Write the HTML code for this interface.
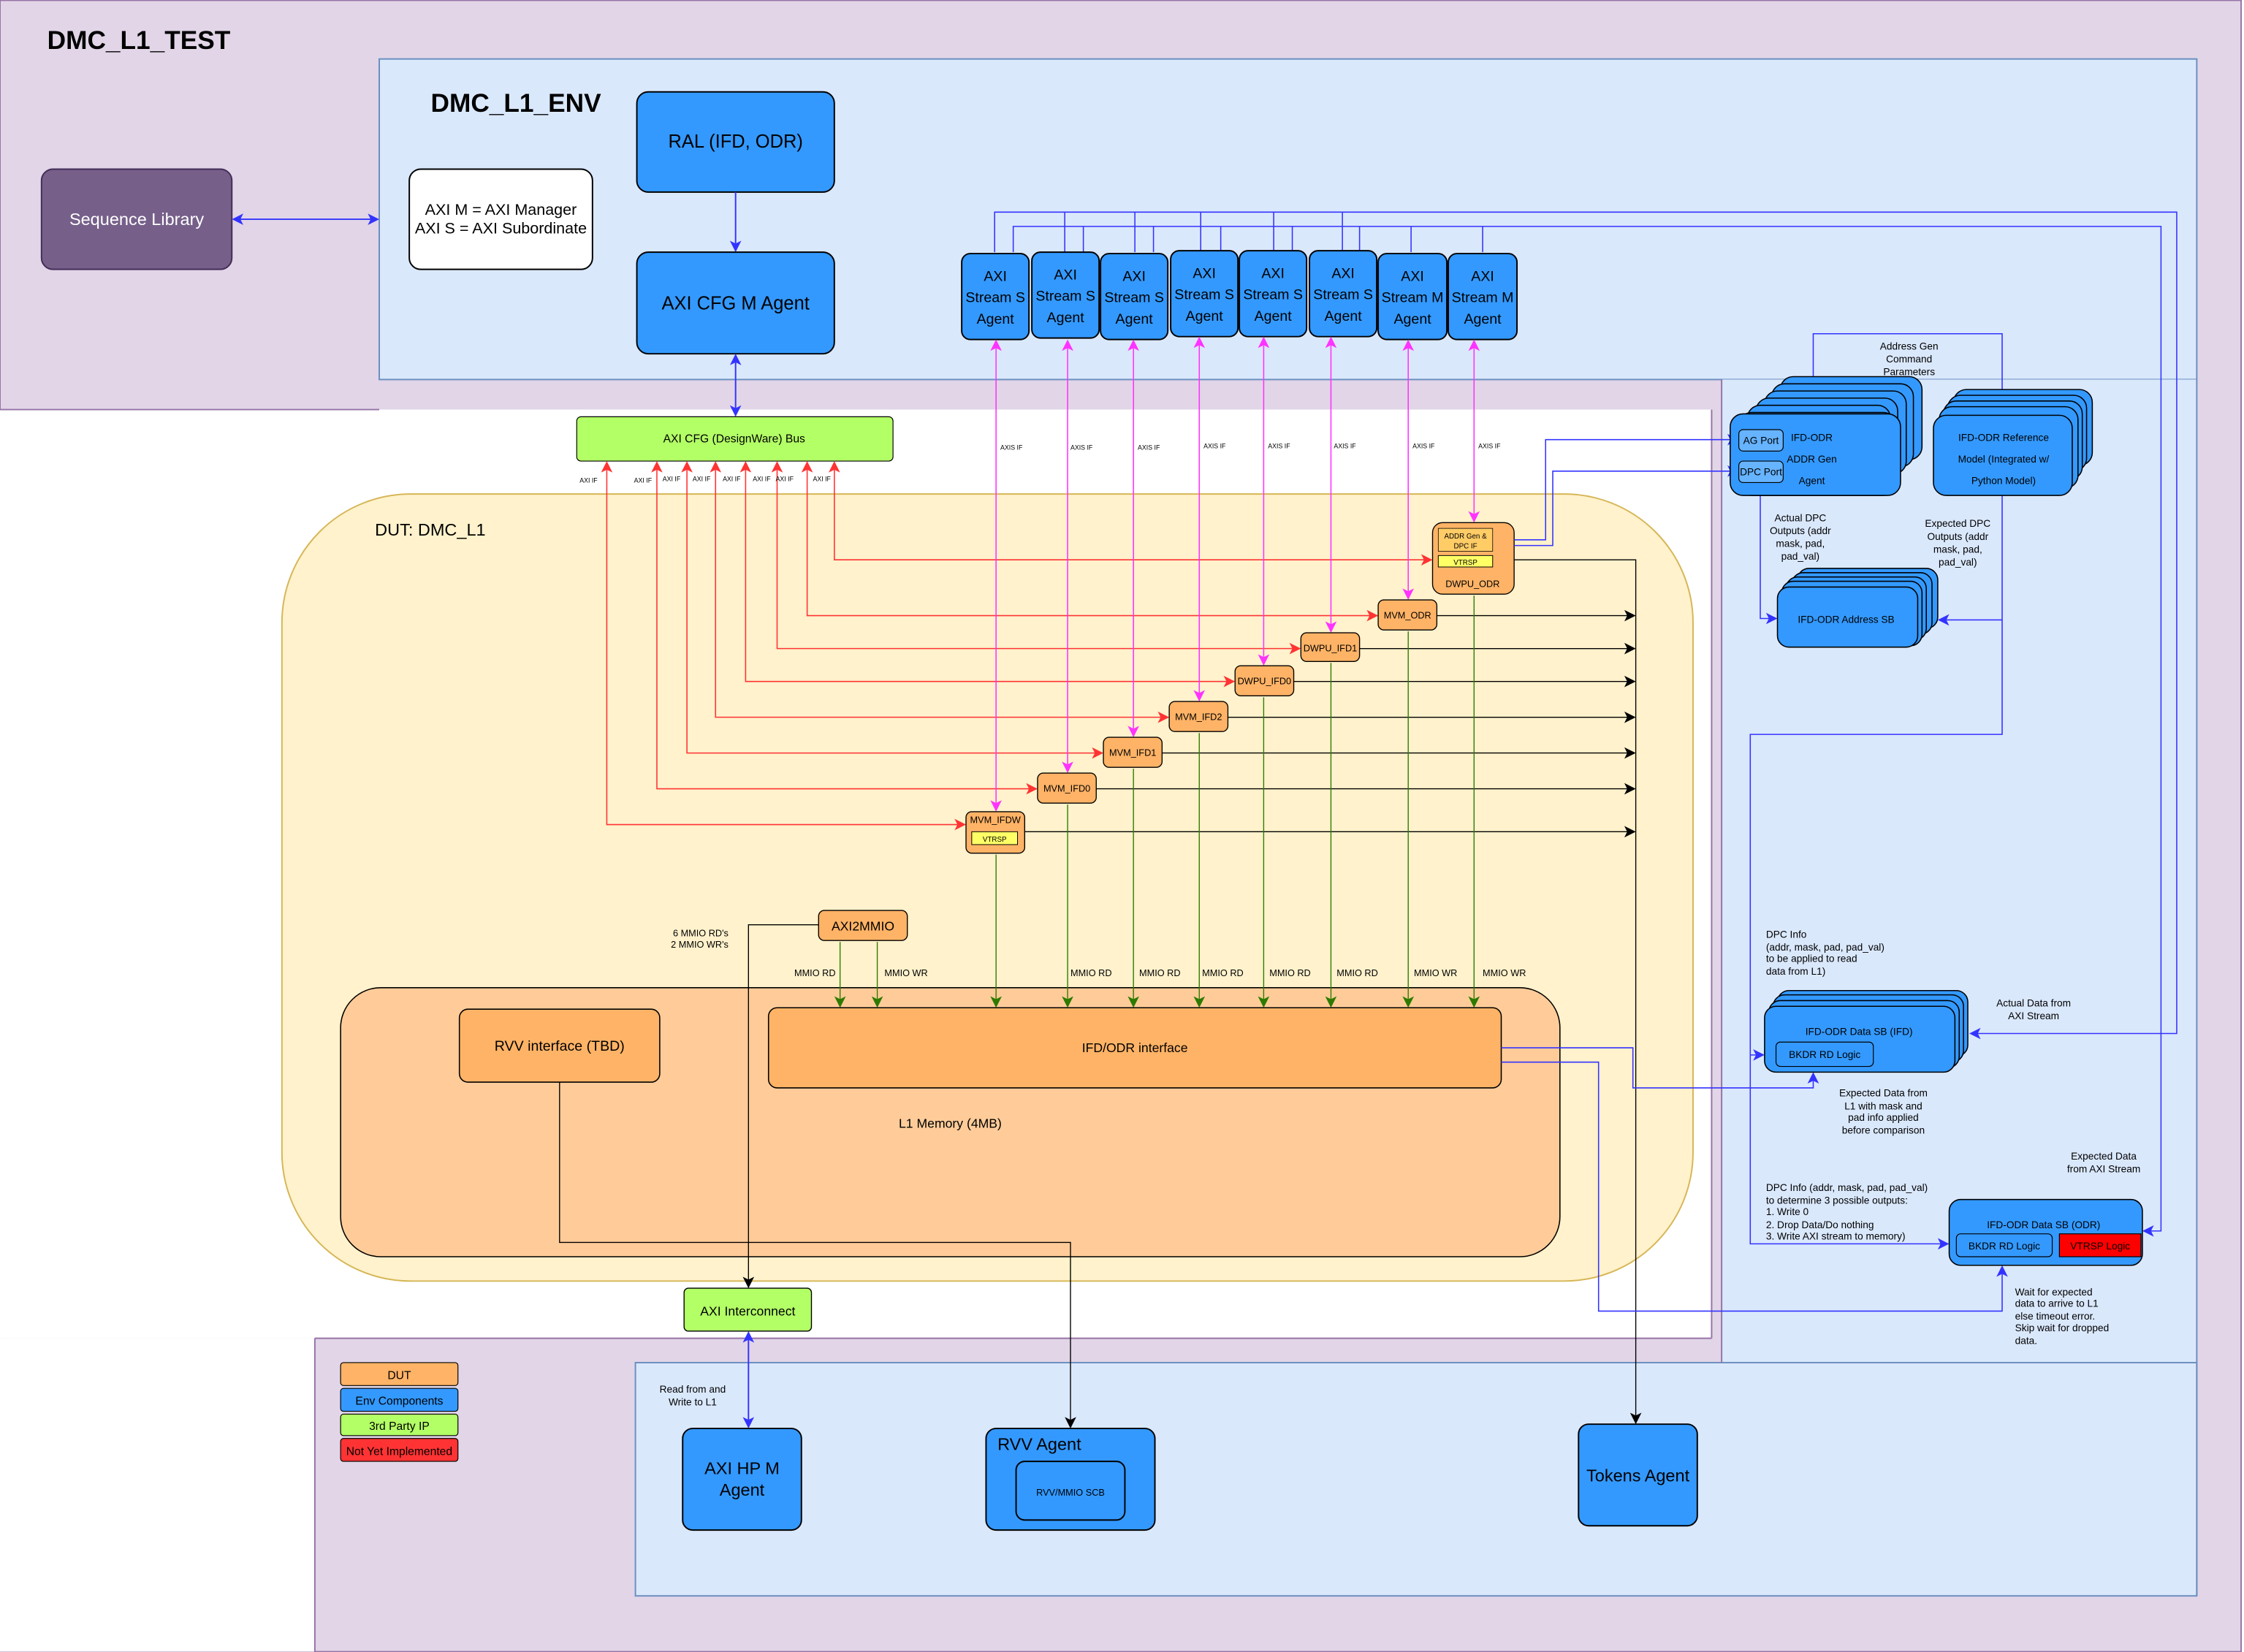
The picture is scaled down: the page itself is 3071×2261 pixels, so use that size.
<!DOCTYPE html>
<html><head><meta charset="utf-8"><style>html,body{margin:0;padding:0;background:#fff}svg{display:block}text{font-family:"Liberation Sans",sans-serif}</style></head><body>
<svg width="3071" height="2261" viewBox="0 0 1568 1154" xmlns="http://www.w3.org/2000/svg">
<defs>
<marker id="ab" markerWidth="8" markerHeight="8" refX="7" refY="4" orient="auto-start-reverse" markerUnits="userSpaceOnUse"><path d="M0,0 L8,4 L0,8 L2,4z" fill="#3333ff"/></marker>
<marker id="am" markerWidth="8" markerHeight="8" refX="7" refY="4" orient="auto-start-reverse" markerUnits="userSpaceOnUse"><path d="M0,0 L8,4 L0,8 L2,4z" fill="#ff33ff"/></marker>
<marker id="ar" markerWidth="8" markerHeight="8" refX="7" refY="4" orient="auto-start-reverse" markerUnits="userSpaceOnUse"><path d="M0,0 L8,4 L0,8 L2,4z" fill="#ff3333"/></marker>
<marker id="ak" markerWidth="8" markerHeight="8" refX="7" refY="4" orient="auto-start-reverse" markerUnits="userSpaceOnUse"><path d="M0,0 L8,4 L0,8 L2,4z" fill="#000"/></marker>
<marker id="ag" markerWidth="8" markerHeight="8" refX="7" refY="4" orient="auto-start-reverse" markerUnits="userSpaceOnUse"><path d="M0,0 L8,4 L0,8 L2,4z" fill="#2d7a00"/></marker>
</defs>
<!-- backgrounds -->
<rect x="0" y="0" width="1566" height="1154" fill="#e1d5e7" stroke="#9673a6"/>
<rect x="0" y="286" width="1196" height="649" fill="#fff"/>
<rect x="0" y="935" width="220" height="219" fill="#fff"/>
<rect x="0" y="286" width="1566" height="0.1" fill="none"/>
<rect x="265" y="41" width="1270" height="224" fill="#dae8fc" stroke="#6c8ebf"/>
<rect x="1203" y="265" width="332" height="850" fill="#dae8fc"/>
<rect x="444" y="952" width="1091" height="163" fill="#dae8fc" stroke="#6c8ebf"/>
<line x1="1535" y1="265" x2="1535" y2="1115" stroke="#6c8ebf"/>
<line x1="1203" y1="265" x2="1203" y2="952" stroke="#9673a6"/>
<line x1="1196" y1="286" x2="1196" y2="935" stroke="#9673a6"/>
<line x1="220" y1="935" x2="1196" y2="935" stroke="#9673a6"/>
<line x1="220" y1="935" x2="220" y2="1154" stroke="#9673a6"/>
<line x1="0" y1="286" x2="265" y2="286" stroke="#9673a6"/>
<text x="33" y="34" font-size="18" font-weight="bold">DMC_L1_TEST</text>
<text x="301" y="78" font-size="18" font-weight="bold">DMC_L1_ENV</text>
<!-- seq lib -->
<rect x="29" y="118" width="133" height="70" rx="8" fill="#76608a" stroke="#432d57"/>
<text x="95.5" y="157" font-size="12" fill="#fff" text-anchor="middle">Sequence Library</text>
<line x1="163" y1="153" x2="264" y2="153" stroke="#3333ff" marker-start="url(#ab)" marker-end="url(#ab)"/>
<rect x="286" y="118" width="128" height="70" rx="8" fill="#fff" stroke="#000"/>
<text x="350" y="150" font-size="11" text-anchor="middle">AXI M = AXI Manager</text>
<text x="350" y="163" font-size="11" text-anchor="middle">AXI S = AXI Subordinate</text>
<rect x="445" y="64" width="138" height="70" rx="8" fill="#3399ff" stroke="#000"/>
<text x="514" y="103" font-size="13" text-anchor="middle">RAL (IFD, ODR)</text>
<line x1="514" y1="134" x2="514" y2="175" stroke="#3333ff" marker-end="url(#ab)"/>
<rect x="445" y="176" width="138" height="71" rx="8" fill="#3399ff" stroke="#000"/>
<text x="514" y="216" font-size="13" text-anchor="middle">AXI CFG M Agent</text>
<line x1="514" y1="248" x2="514" y2="290" stroke="#3333ff" marker-start="url(#ab)" marker-end="url(#ab)"/>
<rect x="403" y="291" width="221" height="31" rx="3" fill="#b3ff66" stroke="#000" stroke-width="0.6"/>
<text x="513" y="309" font-size="8" text-anchor="middle">AXI CFG (DesignWare) Bus</text>
<!-- blue buses top -->
<g stroke="#3333ff" fill="none" stroke-width="0.8">
<polyline points="695,176 695,148 1521,148 1521,722 1377,722" marker-end="url(#ab)"/>
<polyline points="708,176 708,158 1510,158 1510,860 1498,860" marker-end="url(#ab)"/>
<line x1="744" y1="148" x2="744" y2="176"/><line x1="793" y1="148" x2="793" y2="176"/><line x1="839" y1="148" x2="839" y2="176"/><line x1="890" y1="148" x2="890" y2="176"/><line x1="938" y1="148" x2="938" y2="176"/>
<line x1="757" y1="158" x2="757" y2="176"/><line x1="806" y1="158" x2="806" y2="176"/><line x1="853" y1="158" x2="853" y2="176"/><line x1="903" y1="158" x2="903" y2="176"/><line x1="950" y1="158" x2="950" y2="176"/><line x1="986" y1="158" x2="986" y2="176"/><line x1="1036" y1="158" x2="1036" y2="176"/>
</g>
<!-- agents -->
<g font-size="10" text-anchor="middle">
<g><rect x="672" y="177" width="47" height="60" rx="6" fill="#3399ff" stroke="#000"/><text x="695.5" y="196">AXI</text><text x="695.5" y="211">Stream S</text><text x="695.5" y="226">Agent</text></g>
<g><rect x="721" y="176" width="47" height="60" rx="6" fill="#3399ff" stroke="#000"/><text x="744.5" y="195">AXI</text><text x="744.5" y="210">Stream S</text><text x="744.5" y="225">Agent</text></g>
<g><rect x="769" y="177" width="47" height="60" rx="6" fill="#3399ff" stroke="#000"/><text x="792.5" y="196">AXI</text><text x="792.5" y="211">Stream S</text><text x="792.5" y="226">Agent</text></g>
<g><rect x="818" y="175" width="47" height="60" rx="6" fill="#3399ff" stroke="#000"/><text x="841.5" y="194">AXI</text><text x="841.5" y="209">Stream S</text><text x="841.5" y="224">Agent</text></g>
<g><rect x="866" y="175" width="47" height="60" rx="6" fill="#3399ff" stroke="#000"/><text x="889.5" y="194">AXI</text><text x="889.5" y="209">Stream S</text><text x="889.5" y="224">Agent</text></g>
<g><rect x="915" y="175" width="47" height="60" rx="6" fill="#3399ff" stroke="#000"/><text x="938.5" y="194">AXI</text><text x="938.5" y="209">Stream S</text><text x="938.5" y="224">Agent</text></g>
<g><rect x="963" y="177" width="48" height="60" rx="6" fill="#3399ff" stroke="#000"/><text x="987" y="196">AXI</text><text x="987" y="211">Stream M</text><text x="987" y="226">Agent</text></g>
<g><rect x="1012" y="177" width="48" height="60" rx="6" fill="#3399ff" stroke="#000"/><text x="1036" y="196">AXI</text><text x="1036" y="211">Stream M</text><text x="1036" y="226">Agent</text></g>
</g>
<!-- DUT -->
<rect x="197" y="345" width="986" height="550" rx="90" fill="#fff2cc" stroke="#d6b656"/>
<text x="262" y="374" font-size="12">DUT: DMC_L1</text>
<rect x="238" y="690" width="852" height="188" rx="28" fill="#ffcc99" stroke="#000" stroke-width="0.8"/>
<text x="664" y="788" font-size="9" text-anchor="middle">L1 Memory (4MB)</text>
<rect x="321" y="705" width="140" height="51" rx="6" fill="#ffb366" stroke="#000" stroke-width="0.8"/>
<text x="391" y="734" font-size="10" text-anchor="middle">RVV interface (TBD)</text>
<rect x="537" y="704" width="512" height="56" rx="6" fill="#ffb366" stroke="#000" stroke-width="0.8"/>
<text x="793" y="735" font-size="9" text-anchor="middle">IFD/ODR interface</text>
<!-- red CFG lines -->
<g stroke="#ff3333" fill="none" stroke-width="0.8">
<polyline points="424,323 424,576 674,576" marker-start="url(#ar)" marker-end="url(#ar)"/>
<polyline points="459,323 459,551 724,551" marker-start="url(#ar)" marker-end="url(#ar)"/>
<polyline points="480,323 480,526 770,526" marker-start="url(#ar)" marker-end="url(#ar)"/>
<polyline points="500,323 500,501 816,501" marker-start="url(#ar)" marker-end="url(#ar)"/>
<polyline points="521,323 521,476 862,476" marker-start="url(#ar)" marker-end="url(#ar)"/>
<polyline points="543,323 543,453 908,453" marker-start="url(#ar)" marker-end="url(#ar)"/>
<polyline points="564,323 564,430 962,430" marker-start="url(#ar)" marker-end="url(#ar)"/>
<polyline points="583,323 583,391 1000,391" marker-start="url(#ar)" marker-end="url(#ar)"/>
</g>
<g font-size="4.5">
<text x="405" y="337">AXI IF</text><text x="443" y="337">AXI IF</text><text x="463" y="336">AXI IF</text><text x="484" y="336">AXI IF</text><text x="505" y="336">AXI IF</text><text x="526" y="336">AXI IF</text><text x="542" y="336">AXI IF</text><text x="568" y="336">AXI IF</text>
</g>
<!-- magenta AXIS -->
<g stroke="#ff33ff" fill="none" stroke-width="0.8">
<line x1="696" y1="238" x2="696" y2="566" marker-start="url(#am)" marker-end="url(#am)"/>
<line x1="746" y1="238" x2="746" y2="539" marker-start="url(#am)" marker-end="url(#am)"/>
<line x1="792" y1="238" x2="792" y2="514" marker-start="url(#am)" marker-end="url(#am)"/>
<line x1="838" y1="236" x2="838" y2="489" marker-start="url(#am)" marker-end="url(#am)"/>
<line x1="883" y1="236" x2="883" y2="464" marker-start="url(#am)" marker-end="url(#am)"/>
<line x1="930" y1="236" x2="930" y2="441" marker-start="url(#am)" marker-end="url(#am)"/>
<line x1="984" y1="238" x2="984" y2="418" marker-start="url(#am)" marker-end="url(#am)"/>
<line x1="1030" y1="238" x2="1030" y2="364" marker-start="url(#am)" marker-end="url(#am)"/>
</g>
<g font-size="4.5">
<text x="699" y="314">AXIS IF</text><text x="748" y="314">AXIS IF</text><text x="795" y="314">AXIS IF</text><text x="841" y="313">AXIS IF</text><text x="886" y="313">AXIS IF</text><text x="932" y="313">AXIS IF</text><text x="987" y="313">AXIS IF</text><text x="1033" y="313">AXIS IF</text>
</g>
<!-- black outputs -->
<g stroke="#000" fill="none" stroke-width="0.7">
<line x1="716" y1="581" x2="1142" y2="581" marker-end="url(#ak)"/>
<line x1="766" y1="551" x2="1142" y2="551" marker-end="url(#ak)"/>
<line x1="812" y1="526" x2="1142" y2="526" marker-end="url(#ak)"/>
<line x1="858" y1="501" x2="1142" y2="501" marker-end="url(#ak)"/>
<line x1="904" y1="476" x2="1142" y2="476" marker-end="url(#ak)"/>
<line x1="950" y1="453" x2="1142" y2="453" marker-end="url(#ak)"/>
<line x1="1004" y1="430" x2="1142" y2="430" marker-end="url(#ak)"/>
<polyline points="1058,391 1143,391 1143,994" marker-end="url(#ak)"/>
<polyline points="391,756 391,868 748,868 748,997" marker-end="url(#ak)"/>
<polyline points="572,646 523,646 523,899" marker-end="url(#ak)"/>
</g>
<!-- green MMIO -->
<g stroke="#2d7a00" fill="none" stroke-width="0.7">
<line x1="696" y1="597" x2="696" y2="703" marker-end="url(#ag)"/>
<line x1="746" y1="562" x2="746" y2="703" marker-end="url(#ag)"/>
<line x1="792" y1="537" x2="792" y2="703" marker-end="url(#ag)"/>
<line x1="838" y1="512" x2="838" y2="703" marker-end="url(#ag)"/>
<line x1="883" y1="487" x2="883" y2="703" marker-end="url(#ag)"/>
<line x1="930" y1="463" x2="930" y2="703" marker-end="url(#ag)"/>
<line x1="984" y1="441" x2="984" y2="703" marker-end="url(#ag)"/>
<line x1="1030" y1="416" x2="1030" y2="703" marker-end="url(#ag)"/>
<line x1="587" y1="658" x2="587" y2="703" marker-end="url(#ag)"/>
<line x1="613" y1="658" x2="613" y2="703" marker-end="url(#ag)"/>
</g>
<g font-size="6.5">
<text x="555" y="682">MMIO RD</text><text x="618" y="682">MMIO WR</text><text x="748" y="682">MMIO RD</text><text x="796" y="682">MMIO RD</text><text x="840" y="682">MMIO RD</text><text x="887" y="682">MMIO RD</text><text x="934" y="682">MMIO RD</text><text x="988" y="682">MMIO WR</text><text x="1036" y="682">MMIO WR</text>
<text x="509" y="654" text-anchor="end">6 MMIO RD's</text><text x="509" y="662" text-anchor="end">2 MMIO WR's</text>
</g>
<!-- DUT blocks -->
<g font-size="6.5" text-anchor="middle">
<rect x="675" y="567" width="41" height="29" rx="4" fill="#ffb366" stroke="#000" stroke-width="0.7"/><text x="695.5" y="575">MVM_IFDW</text>
<rect x="679" y="581" width="32" height="9" fill="#ffff66" stroke="#000" stroke-width="0.5"/><text x="695" y="588" font-size="5">VTRSP</text>
<rect x="725" y="540" width="41" height="21" rx="4" fill="#ffb366" stroke="#000" stroke-width="0.7"/><text x="745.5" y="553">MVM_IFD0</text>
<rect x="771" y="515" width="41" height="21" rx="4" fill="#ffb366" stroke="#000" stroke-width="0.7"/><text x="791.5" y="528">MVM_IFD1</text>
<rect x="817" y="490" width="41" height="21" rx="4" fill="#ffb366" stroke="#000" stroke-width="0.7"/><text x="837.5" y="503">MVM_IFD2</text>
<rect x="863" y="465" width="41" height="21" rx="4" fill="#ffb366" stroke="#000" stroke-width="0.7"/><text x="883.5" y="478">DWPU_IFD0</text>
<rect x="909" y="442" width="41" height="20" rx="4" fill="#ffb366" stroke="#000" stroke-width="0.7"/><text x="929.5" y="455">DWPU_IFD1</text>
<rect x="963" y="419" width="41" height="21" rx="4" fill="#ffb366" stroke="#000" stroke-width="0.7"/><text x="983.5" y="432">MVM_ODR</text>
<rect x="1001" y="365" width="57" height="50" rx="7" fill="#ffb366" stroke="#000" stroke-width="0.7"/>
<rect x="1005" y="369" width="38" height="16" fill="#ffcc66" stroke="#000" stroke-width="0.4"/><text x="1024" y="376" font-size="5">ADDR Gen &amp;</text><text x="1024" y="383" font-size="5">DPC IF</text>
<rect x="1005" y="388" width="38" height="8" fill="#ffff66" stroke="#000" stroke-width="0.5"/><text x="1024" y="394.5" font-size="5">VTRSP</text>
<text x="1029" y="410">DWPU_ODR</text>
<rect x="572" y="636" width="62" height="21" rx="4" fill="#ffb366" stroke="#000" stroke-width="0.7"/><text x="603" y="650" font-size="9">AXI2MMIO</text>
</g>
<!-- interconnect / bottom agents -->
<rect x="478" y="900" width="89" height="30" rx="3" fill="#b3ff66" stroke="#000" stroke-width="0.7"/>
<text x="522.5" y="919" font-size="9" text-anchor="middle">AXI Interconnect</text>
<line x1="523" y1="931" x2="523" y2="997" stroke="#3333ff" marker-start="url(#ab)" marker-end="url(#ab)"/>
<text x="484" y="973" font-size="7" text-anchor="middle">Read from and</text><text x="484" y="982" font-size="7" text-anchor="middle">Write to L1</text>
<rect x="477" y="998" width="83" height="71" rx="7" fill="#3399ff" stroke="#000"/>
<text x="518.5" y="1030" font-size="12" text-anchor="middle">AXI HP M</text><text x="518.5" y="1045" font-size="12" text-anchor="middle">Agent</text>
<rect x="689" y="998" width="118" height="71" rx="7" fill="#3399ff" stroke="#000"/>
<text x="697" y="1013" font-size="12">RVV Agent</text>
<rect x="710" y="1021" width="76" height="41" rx="6" fill="#3399ff" stroke="#000"/>
<text x="748" y="1045" font-size="6.5" text-anchor="middle">RVV/MMIO SCB</text>
<rect x="1103" y="995" width="83" height="71" rx="7" fill="#3399ff" stroke="#000"/>
<text x="1144.5" y="1035" font-size="12" text-anchor="middle">Tokens Agent</text>
<!-- legend -->
<g font-size="8" text-anchor="middle">
<rect x="238" y="952" width="82" height="16" rx="2" fill="#ffb366" stroke="#000" stroke-width="0.6"/><text x="279" y="963.5">DUT</text>
<rect x="238" y="970" width="82" height="16" rx="2" fill="#3399ff" stroke="#000" stroke-width="0.6"/><text x="279" y="981.5">Env Components</text>
<rect x="238" y="988" width="82" height="15" rx="2" fill="#b3ff66" stroke="#000" stroke-width="0.6"/><text x="279" y="999">3rd Party IP</text>
<rect x="238" y="1005" width="82" height="16" rx="2" fill="#ff3333" stroke="#000" stroke-width="0.6"/><text x="279" y="1016.5">Not Yet Implemented</text>
</g>
<!-- right side connectors -->
<g stroke="#3333ff" fill="none" stroke-width="0.8">
<polyline points="1058,377 1080,377 1080,307 1214,307" marker-end="url(#ab)"/>
<polyline points="1058,381 1085,381 1085,329 1214,329" marker-end="url(#ab)"/>
<polyline points="1267,265 1267,233 1399,233 1399,289" marker-end="url(#ab)"/>
<polyline points="1230,337 1230,432 1241,432" marker-end="url(#ab)"/>
<polyline points="1399,346 1399,433 1355,433" marker-end="url(#ab)"/>
<polyline points="1399,433 1399,513 1223,513 1223,869 1361,869" marker-end="url(#ab)"/>
<polyline points="1223,737 1232,737" marker-end="url(#ab)"/>
<polyline points="1049,732 1141,732 1141,760 1267,760 1267,750" marker-end="url(#ab)"/>
<polyline points="1049,742 1117,742 1117,916 1399,916 1399,885" marker-end="url(#ab)"/>
</g>
<!-- stacks -->
<g stroke="#000" fill="#3399ff" stroke-width="0.8">
<rect x="1244" y="263" width="99" height="58" rx="9"/><rect x="1238" y="268" width="99" height="58" rx="9"/><rect x="1233" y="273" width="99" height="58" rx="9"/><rect x="1227" y="278" width="99" height="58" rx="9"/><rect x="1221" y="283" width="100" height="58" rx="9"/><rect x="1215" y="288" width="110" height="58" rx="9"/>
<rect x="1209" y="289" width="119" height="57" rx="9"/>
<rect x="1365" y="272" width="97" height="53" rx="9"/><rect x="1361" y="276" width="97" height="53" rx="9"/><rect x="1358" y="280" width="97" height="55" rx="9"/><rect x="1355" y="284" width="97" height="57" rx="9"/>
<rect x="1351" y="290" width="97" height="56" rx="9"/>
<rect x="1256" y="397" width="98" height="42" rx="8"/><rect x="1252" y="400" width="98" height="43" rx="8"/><rect x="1248" y="403" width="98" height="44" rx="8"/><rect x="1245" y="406" width="98" height="45" rx="8"/>
<rect x="1242" y="410" width="98" height="42" rx="8"/>
<rect x="1242" y="692" width="133" height="46" rx="8"/><rect x="1239" y="695" width="133" height="47" rx="8"/><rect x="1236" y="699" width="133" height="47" rx="8"/>
<rect x="1233" y="703" width="133" height="46" rx="8"/>
<rect x="1362" y="838" width="135" height="46" rx="8"/>
</g>
<rect x="1215" y="300" width="31" height="15" rx="3" fill="#66b3ff" stroke="#000" stroke-width="0.6"/>
<rect x="1215" y="322" width="31" height="15" rx="3" fill="#66b3ff" stroke="#000" stroke-width="0.6"/>
<rect x="1241" y="728" width="68" height="17" rx="3" fill="#3399ff" stroke="#000" stroke-width="0.6"/>
<rect x="1367" y="862" width="67" height="16" rx="3" fill="#3399ff" stroke="#000" stroke-width="0.6"/>
<rect x="1439" y="862" width="57" height="16" fill="#ff0000" stroke="#000" stroke-width="0.6"/>
<g font-size="7" text-anchor="middle">
<text x="1230.5" y="310">AG Port</text><text x="1230.5" y="332">DPC Port</text>
<text x="1266" y="308">IFD-ODR</text><text x="1266" y="323">ADDR Gen</text><text x="1266" y="338">Agent</text>
<text x="1400" y="308">IFD-ODR Reference</text><text x="1400" y="323">Model (Integrated w/</text><text x="1400" y="338">Python Model)</text>
<text x="1290" y="435">IFD-ODR Address SB</text>
<text x="1299" y="723">IFD-ODR Data SB (IFD)</text><text x="1275" y="739">BKDR RD Logic</text>
<text x="1428" y="858">IFD-ODR Data SB (ODR)</text><text x="1400.5" y="873">BKDR RD Logic</text><text x="1467.5" y="873">VTRSP Logic</text>
<text x="1334" y="244">Address Gen</text><text x="1334" y="253">Command</text><text x="1334" y="262">Parameters</text>
<text x="1258" y="364">Actual DPC</text><text x="1258" y="373">Outputs (addr</text><text x="1258" y="382">mask, pad,</text><text x="1258" y="391">pad_val)</text>
<text x="1368" y="368">Expected DPC</text><text x="1368" y="377">Outputs (addr</text><text x="1368" y="386">mask, pad,</text><text x="1368" y="395">pad_val)</text>
<text x="1421" y="703">Actual Data from</text><text x="1421" y="712">AXI Stream</text>
<text x="1316" y="766">Expected Data from</text><text x="1316" y="775">L1 with mask and</text><text x="1316" y="783">pad info applied</text><text x="1316" y="792">before comparison</text>
<text x="1470" y="810">Expected Data</text><text x="1470" y="819">from AXI Stream</text>
</g>
<g font-size="7">
<text x="1234" y="655">DPC Info</text><text x="1234" y="664">(addr, mask, pad, pad_val)</text><text x="1234" y="672">to be applied to read</text><text x="1234" y="681">data from L1)</text>
<text x="1234" y="832">DPC Info (addr, mask, pad, pad_val)</text><text x="1234" y="841">to determine 3 possible outputs:</text><text x="1234" y="849">1. Write 0</text><text x="1234" y="858">2. Drop Data/Do nothing</text><text x="1234" y="866">3. Write AXI stream to memory)</text>
<text x="1408" y="905">Wait for expected</text><text x="1408" y="913">data to arrive to L1</text><text x="1408" y="922">else timeout error.</text><text x="1408" y="930">Skip wait for dropped</text><text x="1408" y="939">data.</text>
</g>
</svg>
</body></html>
